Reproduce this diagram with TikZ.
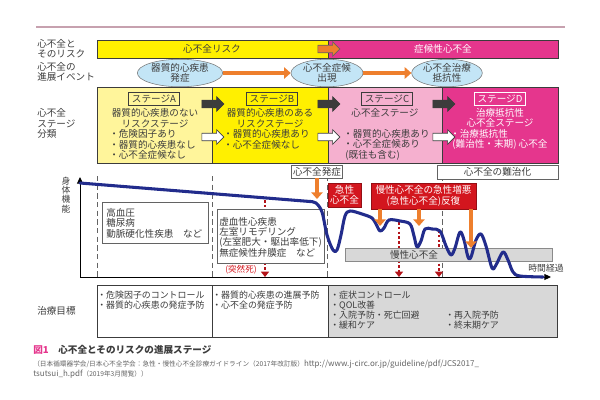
\documentclass[tikz,border=0pt]{standalone}
\usepackage{fontspec}
\setmainfont{Noto Sans CJK JP}
\usetikzlibrary{shapes.geometric,shapes.arrows,arrows.meta}
\definecolor{HFtext}{HTML}{3C3C3C}
\definecolor{HFrule}{HTML}{C7A1AF}
\definecolor{HFyellow}{HTML}{FFF000}
\definecolor{HFpale}{HTML}{FFF59B}
\definecolor{HFpink}{HTML}{F5B0CF}
\definecolor{HFmagenta}{HTML}{E5368D}
\definecolor{HFsky}{HTML}{C3E5F6}
\definecolor{HForange}{HTML}{EE7F2D}
\definecolor{HFred}{HTML}{D3161E}
\definecolor{HFnavy}{HTML}{222C8C}
\definecolor{HFgrey}{HTML}{D8D8D8}
\newcommand{\hfsize}{\fontsize{7.2}{7.9}\selectfont}
\newcommand{\hftable}{\fontsize{6.7}{7.5}\selectfont}

\tikzset{
  txt/.style={font=\hfsize, text=HFtext, inner sep=0pt},
  side/.style={txt, align=left, anchor=west},
  tag/.style={txt, draw=HFtext, line width=0.5pt, inner xsep=2.5pt, minimum height=9.75pt},
  event/.style={ellipse, draw=HFtext!70, fill=HFsky, txt, align=center, minimum height=19.5pt},
  stagearrow/.style={single arrow, single arrow head extend=2.6pt, inner sep=2.6pt, minimum height=16.5pt, line width=0.5pt},
  oarrow/.style={draw=HForange, line width=3.3pt, -{Triangle[length=5pt,width=8.5pt]}},
  redarrow/.style={draw=HFred!85!black, line width=2pt, dash pattern=on 2pt off 1.6pt, -{Triangle[length=4pt,width=6pt]}},
  vdash/.style={draw=HFtext!80, line width=0.6pt, dash pattern=on 4pt off 2.5pt},
  redbox/.style={txt, fill=HFred, draw=HFred!70!black, text=white, align=center},
}

\begin{document}
\begin{tikzpicture}[x=0.75pt, y=-0.75pt]
        \useasboundingbox (0,0) rectangle (600,400);

        % Top rule
        \draw[HFrule, line width=0.8pt] (36,27) -- (565,27);

        % Row labels
        \node[side] (lblrisk) at (37,48.5) {心不全と\\そのリスク};
        \node[side] (lblevent) at (37,72) {心不全の\\進展イベント};
        \node[side] (lblstage) at (37,123.5) {心不全\\ステージ\\分類};
        \node[side] (lblgoal) at (37,311) {治療目標};

        % Risk bars
        \draw[fill=HFyellow, draw=HFtext] (97,40) rectangle (328,58);
        \draw[fill=HFmagenta, draw=HFtext] (328,40) rectangle (558,58);
        \node[txt] (risk) at (212,49) {心不全リスク};
        \node[txt, text=white] (symp) at (443,49) {症候性心不全};
        \node[stagearrow, fill=HForange, draw=HFtext!80] (riskarrow) at (327,49) {};

        % Events
        \node[event, minimum width=64pt] (ev1) at (180,73) {器質的心疾患\\発症};
        \node[event, minimum width=54pt] (ev2) at (327,73) {心不全症候\\出現};
        \node[event, minimum width=53pt] (ev3) at (447,73) {心不全治療\\抵抗性};
        \draw[oarrow, line width=2.8pt] (ev1) -- (ev2);
        \draw[oarrow, line width=2.8pt] (ev2) -- (ev3);

        % Stage A
        \draw[fill=HFpale, draw=HFtext] (97,87) rectangle (212,163);
        \node[tag, fill=HFpale] (tagA) at (154,98.5) {ステージA};
        \node[txt, align=center] (headA) at (155,118) {器質的心疾患のない\\リスクステージ};
        \node[side] (listA) at (109,144.5) {・危険因子あり\\・器質的心疾患なし\\・心不全症候なし};

        % Stage B
        \draw[fill=HFyellow, draw=HFtext] (212,87) rectangle (328,163);
        \node[tag, fill=HFyellow] (tagB) at (272,98.5) {ステージB};
        \node[txt, align=center] (headB) at (270,118) {器質的心疾患のある\\リスクステージ};
        \node[side] (listB) at (223,139.25) {・器質的心疾患あり\\・心不全症候なし};

        % Stage C
        \draw[fill=HFpink, draw=HFtext] (328,87) rectangle (442,163);
        \node[tag, fill=HFpink] (tagC) at (387,98.5) {ステージC};
        \node[txt] (headC) at (385,113) {心不全ステージ};
        \node[side] (listC) at (343,144.5) {・器質的心疾患あり\\・心不全症候あり\\\ (既往も含む)};

        % Stage D
        \draw[fill=HFmagenta, draw=HFtext] (442,87) rectangle (558,163);
        \node[tag, draw=white, fill=HFmagenta, text=white] (tagD) at (500,98.5) {ステージD};
        \node[txt, text=white, align=center] (headD) at (500,118) {治療抵抗性\\心不全ステージ};
        \node[side, text=white] (listD) at (450,139.25) {・治療抵抗性\\\ (難治性・末期) 心不全};

        % Stage arrows
        \foreach \x in {211,327,442} {
          \node[stagearrow, fill=HFtext, draw=HFtext] at (\x,104) {};
          \node[stagearrow, fill=white, draw=HFtext] at (\x,137) {};
        }

        % Axes
        \coordinate (origin) at (80,277);
        \coordinate (ytop) at (80,177);
        \coordinate (xend) at (551,277);
        \draw[line width=0.7pt, -{Triangle[length=5pt,width=4.5pt]}] (origin) -- (ytop);
        \draw[line width=0.7pt, -{Triangle[length=5pt,width=4.5pt]}] (origin) -- (xend);
        \node[txt, align=center, font=\fontsize{6.6}{6.9}\selectfont] (yname) at (66,195) {身\\体\\機\\能};
        \node[txt, font=\fontsize{6.6}{7}\selectfont] (xname) at (546,268) {時間経過};

        % Stage borders
        \foreach \x in {97,212,327,442}
          \draw[vdash] (\x,176) -- (\x,277);

        % Sudden death
        \coordinate (sd1) at (265,200);
        \coordinate (sd2) at (399,222);
        \coordinate (sd3) at (439,230);
        \foreach \c in {sd1,sd2,sd3}
          \draw[redarrow] (\c) -- (\c |- origin);
        \node[txt, text=HFred, font=\fontsize{6.4}{7}\selectfont] (sudden) at (241,270) {(突然死)};

        % Events on the curve
        \node[txt, draw=HFtext!80, fill=white, inner xsep=1pt, minimum height=10pt] (onset) at (317,171.5) {心不全発症};
        \node[txt, draw=HFtext!80, fill=white, minimum width=90.75pt, minimum height=10.5pt] (refract) at (497.5,172) {心不全の難治化};

        % Diseases
        \draw[fill=white, draw=HFtext!80] (102,202) rectangle (208,243);
        \node[side] (riskdz) at (106,223) {高血圧\\糖尿病\\動脈硬化性疾患\quad など};
        \draw[fill=white, draw=HFtext!80] (217,209) rectangle (324,263);
        \node[side, font=\fontsize{7.2}{7.7}\selectfont] (strdz) at (219,237) {虚血性心疾患\\左室リモデリング\\(左室肥大・駆出率低下)\\無症候性弁膜症\quad など};

        % Chronic heart failure
        \draw[fill=HFgrey, draw=HFtext!60] (345,248) rectangle (552,261);
        \node[txt] (chronic) at (414,254.5) {慢性心不全};

        % Physical function
        \draw[HFnavy, line width=2.3pt, line join=round, line cap=round] (80,183) -- (310,201.5) -- plot[smooth, tension=0.55] coordinates {
          (310,201.5) (316,203) (322,212) (327,235) (333,250) (337,250) (341,235) (345,216) (350,211)
          (362,214) (372,218) (376,224) (380,231) (384,228) (389,220) (400,221) (410,224)
          (414,236) (417,247) (421,241) (425,229) (432,229) (440,231) (446,246) (451,255)
          (455,248) (460,232) (464,240) (468,257) (471,257) (476,240) (481,234) (486,246)
          (492,268) (496,265) (503,252) (508,260) (513,272) (520,276) (543,277)};

        % Acute events
        \node[redbox, minimum width=24.75pt, minimum height=18pt] (acute) at (344.5,195) {急性\\心不全};
        \node[redbox, minimum width=78.75pt, minimum height=19.5pt] (acuterep) at (423.5,196) {慢性心不全の急性増悪\\(急性心不全)反復};
        \coordinate (hit1) at (317,199);
        \coordinate (hit2) at (380,226);
        \coordinate (hit3) at (419,226);
        \coordinate (hit4) at (471,248);
        \draw[oarrow] (onset) -- (hit1);
        \foreach \c in {hit2,hit3,hit4}
          \draw[oarrow] (acuterep.south -| \c) -- (\c);

        % Goals
        \draw[fill=white, draw=HFtext] (97,285) rectangle (212,337);
        \draw[fill=white, draw=HFtext] (212,285) rectangle (328,337);
        \draw[fill=HFgrey, draw=HFtext] (328,285) rectangle (557,337);
        \node[side, font=\hftable] (goalA) at (97,300) {・危険因子のコントロール\\・器質的心疾患の発症予防};
        \node[side, font=\hftable] (goalB) at (212,300) {・器質的心疾患の進展予防\\・心不全の発症予防};
        \node[side, font=\hftable] (goalC) at (330,310.25) {・症状コントロール\\・QOL改善\\・入院予防・死亡回避\\・緩和ケア};
        \node[side, font=\hftable] (goalD) at (445,320.5) {・再入院予防\\・終末期ケア};

        % Caption
        \node[side, font=\fontsize{7.2}{8}\selectfont\bfseries] (capt) at (33,350) {\textcolor{HFmagenta}{図1}\quad 心不全とそのリスクの進展ステージ};
        \node[side, text=HFtext!80, font=\fontsize{5}{5.5}\selectfont] (src1) at (33,364) {（日本循環器学会/日本心不全学会：急性・慢性心不全診療ガイドライン（2017年改訂版）{\fontsize{6}{6.5}\selectfont http://www.j-circ.or.jp/guideline/pdf/JCS2017\_}};
        \node[side, text=HFtext!80, font=\fontsize{5}{5.5}\selectfont] (src2) at (33,374) {{\fontsize{6}{6.5}\selectfont tsutsui\_h.pdf}（2019年3月閲覧））};
      \end{tikzpicture}
\end{document}
